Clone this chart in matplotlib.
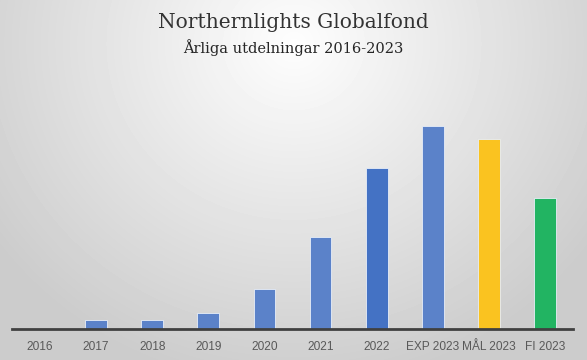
import numpy as np
import matplotlib
matplotlib.use("Agg")
import matplotlib.pyplot as plt

categories = ["2016", "2017", "2018", "2019", "2020", "2021", "2022", "EXP 2023", "MÅL 2023", "FI 2023"]
values = [0.4, 9, 9, 16, 40, 92, 161, 203, 190, 131]
colors = ["#5b82c9", "#5b82c9", "#5b82c9", "#5b82c9", "#5b82c9", "#5b82c9", "#4472c4", "#5b82c9", "#fac320", "#22b462"]
title = "Northernlights Globalfond"
subtitle = "Årliga utdelningar 2016-2023"

W, H = 587, 360
fig = plt.figure(figsize=(W / 100, H / 100), dpi=100)

# radial gradient background
bg = fig.add_axes([0, 0, 1, 1])
yy, xx = np.mgrid[0:H, 0:W]
cx, cy = W * 0.5, H * 0.12
r = np.sqrt(((xx - cx) / (W * 0.62)) ** 2 + ((yy - cy) / (H * 0.95)) ** 2)
r = np.clip(r, 0, 1)
light, dark = 0.995, 0.80
img = light + (dark - light) * r
bg.imshow(img, cmap="gray", vmin=0, vmax=1, extent=[0, 1, 0, 1], aspect="auto", interpolation="bilinear")
bg.axis("off")

# main axes: x 12..573 px, y 100..329 px (from top)
left, right = 12 / W, 573 / W
bottom, top = (H - 329) / H, (H - 100) / H
ax = fig.add_axes([left, bottom, right - left, top - bottom])
ax.patch.set_alpha(0)
x = np.arange(len(categories))
ax.bar(x, values, width=0.39, color=colors, edgecolor="#e8eef8", linewidth=0.6, zorder=2)
ax.set_xlim(-0.5, len(categories) - 0.5)
ax.set_ylim(0, 229)
for s in ["top", "right", "left"]:
    ax.spines[s].set_visible(False)
ax.spines["bottom"].set_color("#404040")
ax.spines["bottom"].set_linewidth(2)
ax.spines["bottom"].set_zorder(3)
ax.set_yticks([])
ax.set_xticks(x)
ax.set_xticklabels(categories, fontsize=8.6, color="#595959", family="Liberation Sans")
ax.tick_params(axis="x", length=0, pad=8.5)

fig.text(0.5, 1 - 22 / H, title, ha="center", va="center", fontsize=14.5, family="DejaVu Serif", color="#333333")
fig.text(0.5, 1 - 48 / H, subtitle, ha="center", va="center", fontsize=10.5, family="DejaVu Serif", color="#262626")

fig.savefig("out.png", dpi=100)
